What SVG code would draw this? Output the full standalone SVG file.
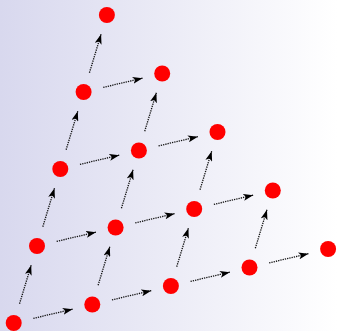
<svg xmlns="http://www.w3.org/2000/svg" width="337" height="331" viewBox="0 0 337 331">
<defs>
<linearGradient id="bg" x1="0" y1="0" x2="1" y2="0">
<stop offset="0" stop-color="#d8d8ee"/>
<stop offset="1" stop-color="#ffffff"/>
</linearGradient>
<marker id="ah" viewBox="0 0 10 7" refX="10" refY="3.5" markerWidth="10" markerHeight="7" markerUnits="userSpaceOnUse" orient="auto">
<path d="M0,0 L10,3.5 L0,7 L2.5,3.5 Z" fill="#000"/>
</marker>
<style>
.e{stroke:#111;stroke-width:1.3;stroke-dasharray:1.3 1;fill:none;marker-end:url(#ah)}
.n{fill:#ff0000}
</style>
</defs>
<rect width="337" height="331" fill="url(#bg)"/>
<g id="connectors">
<line class="e" x1="33.35" y1="318.375" x2="72.65" y2="309.125"/>
<line class="e" x1="111.95" y1="299.875" x2="151.25" y2="290.625"/>
<line class="e" x1="190.55" y1="281.375" x2="229.85" y2="272.125"/>
<line class="e" x1="269.15" y1="262.875" x2="308.45" y2="253.625"/>
<line class="e" x1="56.65" y1="241.375" x2="95.95" y2="232.125"/>
<line class="e" x1="135.25" y1="222.875" x2="174.55" y2="213.625"/>
<line class="e" x1="213.85" y1="204.375" x2="253.15" y2="195.125"/>
<line class="e" x1="79.95" y1="164.375" x2="119.25" y2="155.125"/>
<line class="e" x1="158.55" y1="145.875" x2="197.85" y2="136.625"/>
<line class="e" x1="103.25" y1="87.375" x2="142.55" y2="78.125"/>
<line class="e" x1="19.525" y1="303.75" x2="31.175" y2="265.25"/>
<line class="e" x1="98.125" y1="285.25" x2="109.775" y2="246.75"/>
<line class="e" x1="176.725" y1="266.75" x2="188.375" y2="228.25"/>
<line class="e" x1="255.325" y1="248.25" x2="266.975" y2="209.75"/>
<line class="e" x1="42.825" y1="226.75" x2="54.475" y2="188.25"/>
<line class="e" x1="121.425" y1="208.25" x2="133.075" y2="169.75"/>
<line class="e" x1="200.025" y1="189.75" x2="211.675" y2="151.25"/>
<line class="e" x1="66.125" y1="149.75" x2="77.775" y2="111.25"/>
<line class="e" x1="144.725" y1="131.25" x2="156.375" y2="92.75"/>
<line class="e" x1="89.425" y1="72.75" x2="101.075" y2="34.25"/>
</g>
<g id="n00"><circle class="n" cx="13.7" cy="323" r="8"/></g>
<g id="n10"><circle class="n" cx="92.3" cy="304.5" r="8"/></g>
<g id="n20"><circle class="n" cx="170.9" cy="286" r="8"/></g>
<g id="n30"><circle class="n" cx="249.5" cy="267.5" r="8"/></g>
<g id="n40"><circle class="n" cx="328.1" cy="249" r="8"/></g>
<g id="n01"><circle class="n" cx="37" cy="246" r="8"/></g>
<g id="n11"><circle class="n" cx="115.6" cy="227.5" r="8"/></g>
<g id="n21"><circle class="n" cx="194.2" cy="209" r="8"/></g>
<g id="n31"><circle class="n" cx="272.8" cy="190.5" r="8"/></g>
<g id="n02"><circle class="n" cx="60.3" cy="169" r="8"/></g>
<g id="n12"><circle class="n" cx="138.9" cy="150.5" r="8"/></g>
<g id="n22"><circle class="n" cx="217.5" cy="132" r="8"/></g>
<g id="n03"><circle class="n" cx="83.6" cy="92" r="8"/></g>
<g id="n13"><circle class="n" cx="162.2" cy="73.5" r="8"/></g>
<g id="n04"><circle class="n" cx="106.9" cy="15" r="8"/></g>
</svg>
